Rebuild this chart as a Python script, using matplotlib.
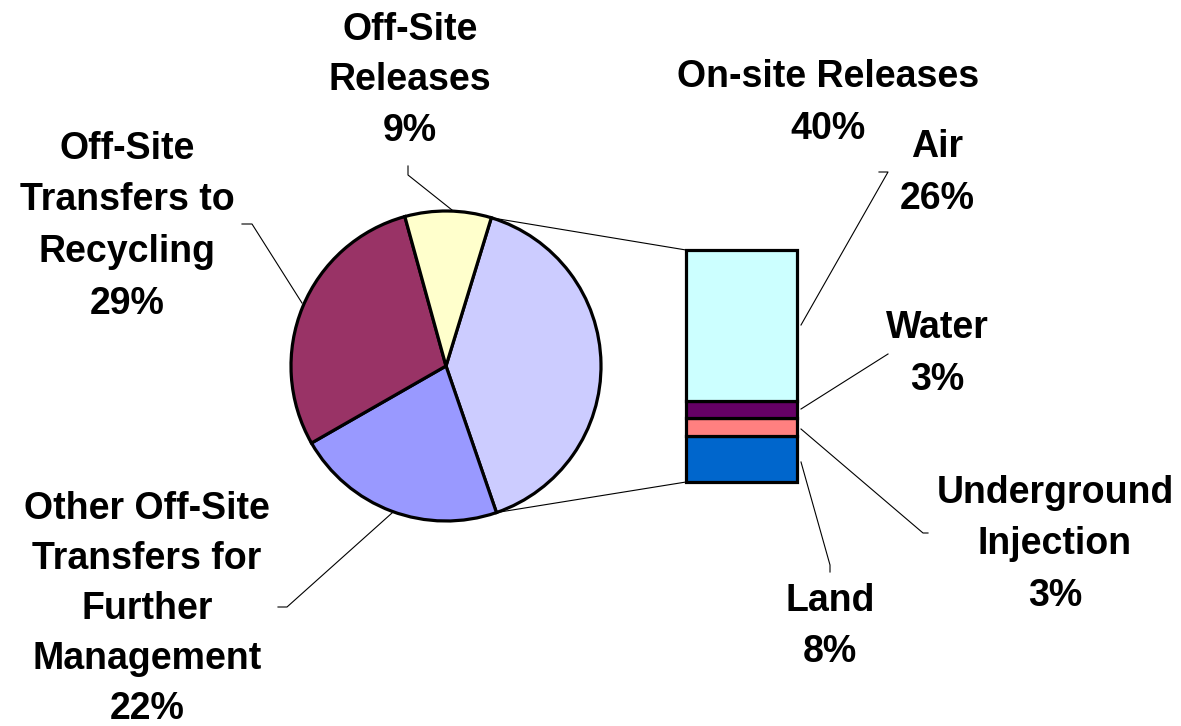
import numpy as np
import matplotlib
matplotlib.use('Agg')
import matplotlib.pyplot as plt

# pie data (percent of total)
pie_labels = [['On-site Releases', '40%'],
              ['Other Off-Site', 'Transfers for', 'Further', 'Management', '22%'],
              ['Off-Site', 'Transfers to', 'Recycling', '29%'],
              ['Off-Site', 'Releases', '9%']]
pie_values = [40, 22, 29, 9]
pie_colors = ['#CCCCFF', '#9999FF', '#993366', '#FFFFCC']

# breakdown of on-site releases
bar_labels = [['Land', '8%'], ['Underground', 'Injection', '3%'], ['Water', '3%'], ['Air', '26%']]
bar_values = [8, 3, 3, 26]
bar_colors = ['#0066CC', '#FF8080', '#660066', '#CCFFFF']

W, H = 1181, 726
fig = plt.figure(figsize=(W / 100, H / 100), dpi=100)
ax = fig.add_axes([0, 0, 1, 1])

def py(y):
    # pixel row (from top) -> data y
    return H - y

cx, cy, r = 446, py(366), 155
start = 73
wedges, _ = ax.pie(pie_values, colors=pie_colors, startangle=start, counterclock=False,
                   center=(cx, cy), radius=r,
                   wedgeprops=dict(edgecolor='black', linewidth=2.3))

# stacked bar for on-site releases
scale = 232 / 40.0
bx, bw, b0 = 741.5, 111, py(482)
bottom = b0
for v, c in zip(bar_values, bar_colors):
    ax.bar(bx, v * scale, width=bw, bottom=bottom, color=c, edgecolor='black', linewidth=2.3)
    bottom += v * scale

# connector lines pie -> bar
a1 = np.radians(start)
a2 = np.radians(start - 360 * pie_values[0] / sum(pie_values))
ax.plot([cx + r * np.cos(a1), bx - bw / 2], [cy + r * np.sin(a1), bottom], color='black', lw=0.8)
ax.plot([cx + r * np.cos(a2), bx - bw / 2], [cy + r * np.sin(a2), b0], color='black', lw=0.8)

fnt = dict(family='Liberation Sans', weight='bold', size=27, ha='center', va='baseline')

def label(x, y0, lines, pitch=51.5):
    # one text per line, y0 = baseline of first line (pixels from top)
    for i, s in enumerate(lines):
        ax.text(x, py(y0 + i * pitch), s, **fnt)

label(828, 87, pie_labels[0], pitch=52)
label(147, 519, pie_labels[1], pitch=50)
label(127, 159, pie_labels[2])
label(410, 40, pie_labels[3], pitch=50.5)
label(830, 611, bar_labels[0])
label(1055, 503, bar_labels[1])
label(937, 338, bar_labels[2], pitch=52)
label(937, 157, bar_labels[3], pitch=52)

# leader lines
leaders = [
    [(408, 166), (408, 175), (452, 210)],
    [(242, 224), (252, 224), (302, 303)],
    [(278, 607), (287, 607), (392, 513)],
    [(879, 172), (888, 172), (801, 325)],
    [(888, 354), (801, 409)],
    [(801, 429), (923, 533), (928, 533)],
    [(801, 462), (830, 565), (830, 572)],
]
for pts in leaders:
    xs = [p[0] for p in pts]
    ys = [py(p[1]) for p in pts]
    ax.plot(xs, ys, color='black', lw=0.8)

ax.set_xlim(0, W)
ax.set_ylim(0, H)
ax.set_aspect('auto')
ax.axis('off')

fig.savefig('out.png', dpi=100)
